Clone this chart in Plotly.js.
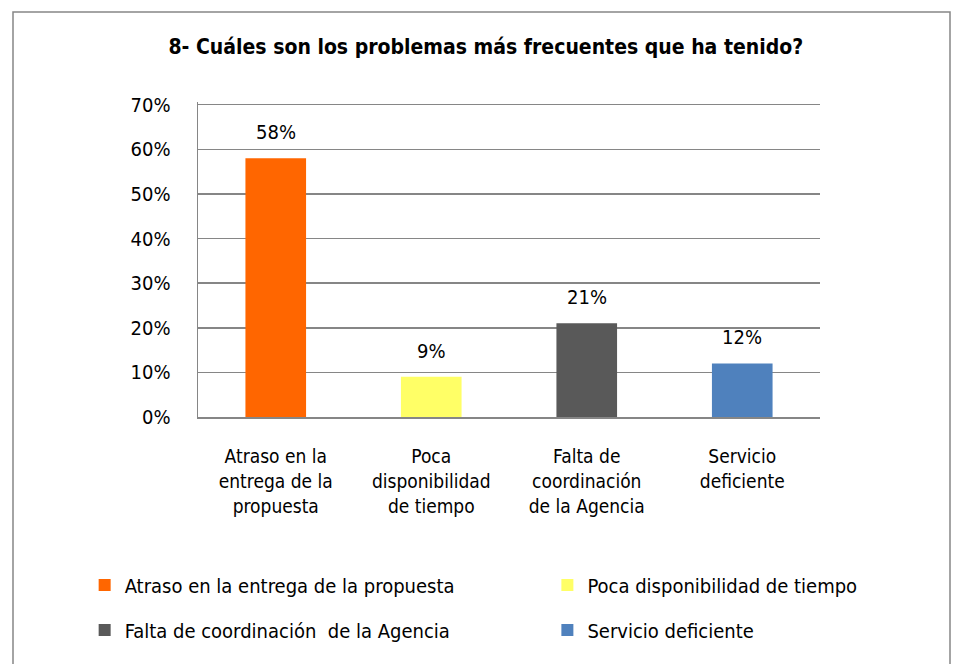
<!DOCTYPE html>
<html><head><meta charset="utf-8">
<script src="https://cdn.plot.ly/plotly-3.0.1.min.js"></script>
<style>body{margin:0;background:#fff}#c{width:962px;height:664px}</style>
</head><body><div id="c"></div>
<script>
var categories = ["Atraso en la<br>entrega de la<br>propuesta", "Poca<br>disponibilidad<br>de tiempo", "Falta de<br>coordinación<br>de la Agencia", "Servicio<br>deficiente"];
var seriesNames = ["Atraso en la entrega de la propuesta", "Poca disponibilidad de tiempo", "Falta de coordinación  de la Agencia", "Servicio deficiente"];
var values = [0.58, 0.09, 0.21, 0.12];
var colors = ["#FF6600", "#FFFF66", "#595959", "#4F81BD"];
var yTicks = [0, 0.1, 0.2, 0.3, 0.4, 0.5, 0.6, 0.7];

var FONT = "'Liberation Sans Narrow', 'DejaVu Sans Condensed', sans-serif";
var legendIds = ['legend', 'legend2', 'legend3', 'legend4'];
var traces = values.map(function(v, i) {
  return {
    type: 'bar', x: [categories[i]], y: [v], name: seriesNames[i],
    marker: {color: colors[i]}, width: 0.39,
    legend: legendIds[i], hoverinfo: 'skip'
  };
});
var annotations = values.map(function(v, i) {
  return {x: categories[i], y: v, xref: 'x', yref: 'y', text: Math.round(v * 100) + '%', showarrow: false,
    yanchor: 'bottom', yshift: 12, font: {family: FONT, size: 20, color: '#000'}};
});
function leg(x, y) {
  return {orientation: 'h', xref: 'container', yref: 'container', x: x, y: y, xanchor: 'left', yanchor: 'middle',
    font: {family: FONT, size: 20, color: '#000'}, bgcolor: 'rgba(0,0,0,0)', itemwidth: 30};
}
var layout = {
  width: 962, height: 664, paper_bgcolor: '#fff', plot_bgcolor: '#fff',
  margin: {l: 198, r: 142, t: 102, b: 247},
  title: {text: '<b>8- Cuáles son los problemas más frecuentes que ha tenido?</b>', xref: 'container', x: 0.505, xanchor: 'center', yref: 'container', y: 0.929, yanchor: 'middle', font: {family: FONT, size: 21, color: '#000'}},
  barmode: 'overlay', showlegend: true,
  xaxis: {type: 'category', showline: true, linecolor: '#868686', linewidth: 1.5, ticks: '', tickfont: {family: FONT, size: 19, color: '#000'}, ticklabelstandoff: 22, fixedrange: true},
  yaxis: {range: [0, 0.706], tickvals: yTicks, tickformat: '.0%', showgrid: true, gridcolor: '#868686', gridwidth: 1.5, showline: true, linecolor: '#868686', linewidth: 1.5, zeroline: false, ticks: '', ticklabelstandoff: 22, tickfont: {family: FONT, size: 20, color: '#000'}, fixedrange: true},
  legend: leg(0.088, 1 - 585 / 664),
  legend2: leg(0.569, 1 - 585 / 664),
  legend3: leg(0.088, 1 - 630 / 664),
  legend4: leg(0.569, 1 - 630 / 664),
  annotations: annotations,
  shapes: [{type: 'rect', xref: 'paper', yref: 'paper', x0: (13 - 198) / 622, x1: (950 - 198) / 622, y0: -0.85, y1: (417 - 12) / 315, line: {color: '#868686', width: 1.5}, fillcolor: 'rgba(0,0,0,0)', layer: 'below'}]
};
Plotly.newPlot('c', traces, layout, {displayModeBar: false, staticPlot: true});
</script></body></html>
